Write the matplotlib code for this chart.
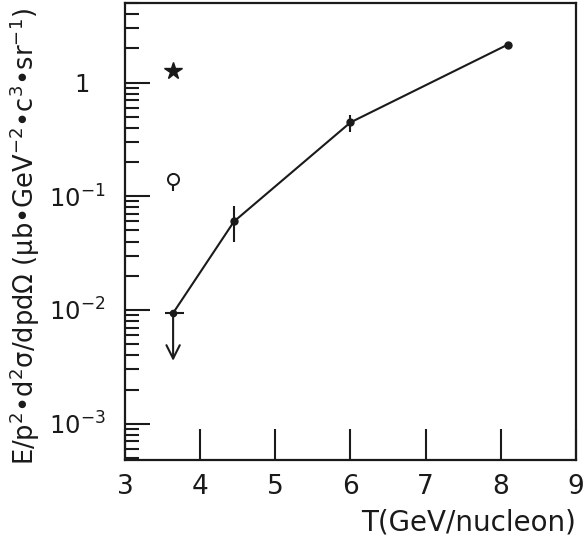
import matplotlib
matplotlib.use("Agg")
import matplotlib.pyplot as plt
import matplotlib.transforms as mtransforms
from matplotlib.ticker import FixedLocator, LogLocator, NullFormatter

# data
T_line = [3.64, 4.45, 6.0, 8.09]
y_line = [0.0094, 0.060, 0.446, 2.15]
y_err_lo = [0.0, 0.020, 0.082, 0.12]
y_err_hi = [0.0, 0.022, 0.068, 0.14]
ul_T = [3.64]
ul_y = [0.0094]
star_T = [3.64]
star_y = [1.25]
circ_T = [3.64]
circ_y = [0.141]
circ_lo = [0.03]
circ_hi = [0.02]
xticks = [3, 4, 5, 6, 7, 8, 9]
yticks = [1e-3, 1e-2, 1e-1, 1]
ytick_labels = ["$10^{-3}$", "$10^{-2}$", "$10^{-1}$", "1"]

plt.rcParams['font.family'] = ['DejaVu Sans']
plt.rcParams['mathtext.fontset'] = 'dejavusans'

C = '#1a1a1a'
fig = plt.figure(figsize=(5.84, 5.41), dpi=100)
ax = fig.add_axes([125/584, 1-460/541, (576-125)/584, (460-3)/541])
ax.set_yscale('log')
ax.set_xlim(3, 9)
ax.set_ylim(4.8e-4, 5.0)

ax.plot(T_line, y_line, color=C, lw=1.5)
ax.errorbar(T_line[1:], y_line[1:], yerr=[y_err_lo[1:], y_err_hi[1:]], fmt='o',
            ms=5, color=C, elinewidth=1.5, capsize=0)
# upper limit
ax.errorbar(ul_T, ul_y, xerr=[[0.11], [0.15]], fmt='o', ms=4.5, color=C,
            elinewidth=1.5, capsize=0)
ax.annotate('', xy=(ul_T[0], ul_y[0]*0.38), xytext=(ul_T[0], ul_y[0]),
            arrowprops=dict(arrowstyle='->', color=C, lw=1.5, mutation_scale=24,
                            shrinkA=0, shrinkB=0))
ax.plot(star_T, star_y, marker='*', ms=13, color=C, ls='none')
ax.errorbar(circ_T, circ_y, yerr=[circ_lo, circ_hi], fmt='o', ms=8, mfc='white',
            mec=C, color=C, elinewidth=1.5, capsize=0, mew=1.4)

ax.xaxis.set_major_locator(FixedLocator(xticks))
ax.set_xticklabels([str(v) for v in xticks])
ax.yaxis.set_major_locator(FixedLocator(yticks))
ax.set_yticklabels(ytick_labels)
ax.yaxis.set_minor_locator(LogLocator(base=10, subs=range(2, 10), numticks=20))
ax.yaxis.set_minor_formatter(NullFormatter())

ax.tick_params(axis='x', which='major', direction='in', length=22, width=1.5,
               labelsize=19, pad=10, top=False, colors=C)
ax.tick_params(axis='y', which='major', direction='in', length=18, width=1.5,
               labelsize=17.5, pad=14, right=False, colors=C)
ax.tick_params(axis='y', which='minor', direction='in', length=10, width=1.5,
               right=False, colors=C)
for s in ax.spines.values():
    s.set_linewidth(1.6)
    s.set_color(C)

# shift the "1" label left as in the reference
for lab in ax.get_yticklabels():
    if lab.get_text() == "1":
        lab.set_transform(lab.get_transform() +
                          mtransforms.ScaledTranslation(-16/100, 0, fig.dpi_scale_trans))

ax.set_xlabel('T(GeV/nucleon)', fontsize=20, loc='right', labelpad=6, color=C)
ax.set_ylabel('E/p$^2$•d$^2$σ/dpdΩ (μb•GeV$^{-2}$•c$^3$•sr$^{-1}$)', fontsize=18.5, color=C)
ax.yaxis.set_label_coords(-0.185, 0.49)

fig.savefig('out.png', dpi=100)
